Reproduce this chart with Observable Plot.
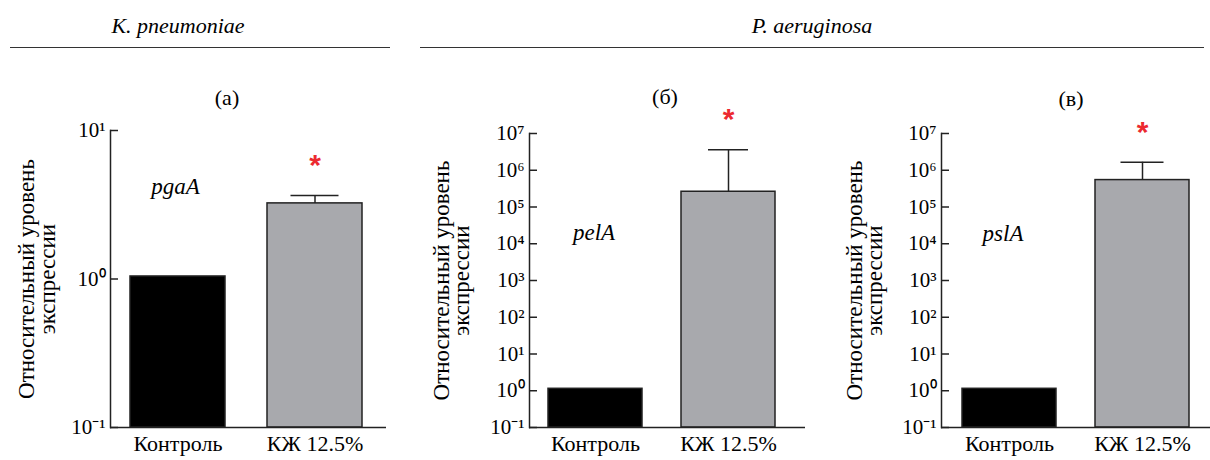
<!DOCTYPE html>
<html><head><meta charset="utf-8">
<script src="https://cdn.jsdelivr.net/npm/d3@7"></script>
<script src="https://cdn.jsdelivr.net/npm/@observablehq/plot@0.6"></script>
<style>
html,body{margin:0;background:#fff;font-family:"Liberation Serif","Times New Roman",Tinos,serif;}
#fig{position:relative;width:1210px;height:460px;color:#000;overflow:hidden}
.hdr{position:absolute;font-style:italic;font-size:22px;transform:translate(-50%,-50%);white-space:nowrap}
.rule{position:absolute;height:0;border-top:1.5px solid #333}
.ttl{position:absolute;font-size:22px;transform:translate(-50%,-50%);white-space:nowrap}
.panel{position:absolute;top:0}
</style></head><body>
<div id="fig">
  <div class="hdr" style="left:178px;top:26px">K. pneumoniae</div>
  <div class="rule" style="left:10px;top:47px;width:380px"></div>
  <div class="hdr" style="left:812px;top:26px">P. aeruginosa</div>
  <div class="rule" style="left:420px;top:47px;width:784px"></div>
  <div class="ttl" style="left:227px;top:98px">(а)</div>
  <div class="ttl" style="left:665px;top:97px">(б)</div>
  <div class="ttl" style="left:1071px;top:99px">(в)</div>
  <div class="panel" id="pa" style="left:0px"></div>
  <div class="panel" id="pb" style="left:410px"></div>
  <div class="panel" id="pc" style="left:800px"></div>
</div>
<script>
// ---- data ----
const categories = ["Контроль", "КЖ 12.5%"];
const pgaAValues = [1.04, 3.23];
const pgaAUpper = [null, 3.65];
const pelAValues = [1.13, 2.6e5];
const pelAUpper = [null, 3.6e6];
const pslAValues = [1.13, 5.4e5];
const pslAUpper = [null, 1.65e6];
const significant = [false, true];
const ticksA = [0.1, 1, 10];
const tickLabelsA = ["10⁻¹", "10⁰", "10¹"];
const ticksBC = [0.1, 1, 10, 100, 1e3, 1e4, 1e5, 1e6, 1e7];
const tickLabelsBC = ["10⁻¹", "10⁰", "10¹", "10²", "10³", "10⁴", "10⁵", "10⁶", "10⁷"];
const yLabel = "Относительный уровень\nэкспрессии";

const INK = "#222";
const SERIF = "'Liberation Serif', 'Times New Roman', Tinos, serif";
function panel(cfg) {
  const rows = categories.map((c, i) => ({cat: c, value: cfg.values[i], upper: cfg.upper[i], sig: significant[i]}));
  const err = rows.filter(d => d.upper != null);
  const sig = rows.filter(d => d.sig);
  const innerW = cfg.width - cfg.marginLeft - cfg.marginRight;
  return Plot.plot({
    width: cfg.width, height: 460,
    marginLeft: cfg.marginLeft, marginRight: cfg.marginRight, marginTop: cfg.marginTop, marginBottom: 33,
    style: `font-family: ${SERIF}; font-size: 20px; color: #000; background: transparent; overflow: visible;`,
    x: {type: "band", domain: categories, range: cfg.xRange, paddingInner: cfg.pad, paddingOuter: 0, align: 0},
    y: {type: "log", domain: [cfg.ticks[0], cfg.ticks[cfg.ticks.length - 1]], range: [427, cfg.marginTop]},
    color: {domain: categories, range: ["#000000", "#a8a9ad"]},
    marks: [
      Plot.barY(rows, {x: "cat", y1: cfg.ticks[0], y2: "value", fill: "cat", stroke: INK, strokeWidth: 1.5}),
      Plot.ruleX(err, {x: "cat", y1: "value", y2: "upper", stroke: INK, strokeWidth: 1.5}),
      Plot.tickY(err, {x: "cat", y: "upper", insetLeft: cfg.cap, insetRight: cfg.cap, stroke: INK, strokeWidth: 1.5}),
      Plot.text(sig, {x: "cat", y: "upper", text: () => "*", dy: -30, fill: "#ec2a30", fontSize: 30, fontWeight: "bold", fontFamily: "'Liberation Sans', Arimo, sans-serif"}),
      Plot.ruleY([cfg.ticks[0]], {stroke: INK, strokeWidth: 1.5}),
      Plot.frame({anchor: "left", stroke: INK, strokeWidth: 1.5}),
      Plot.ruleY(cfg.ticks, {insetRight: innerW - 8, stroke: INK, strokeWidth: 1.5}),
      Plot.axisY({ticks: cfg.ticks, tickFormat: d => cfg.tickLabels[cfg.ticks.indexOf(d)], tickSize: 0, tickPadding: 5, fontSize: 21, fontFamily: SERIF, label: null}),
      Plot.axisX({tickSize: 0, tickPadding: 8, fontSize: 22, fontFamily: SERIF, label: null}),
      Plot.text([yLabel], {frameAnchor: "left", textAnchor: "middle", rotate: -90, dx: cfg.labelDx, fontSize: 23, fontFamily: SERIF, lineHeight: 0.88, lineAnchor: "middle"}),
      Plot.text([cfg.gene], {x: () => categories[0], y: () => cfg.geneY, dx: cfg.geneDx, fontStyle: "italic", fontFamily: SERIF, fontSize: 23})
    ]
  });
}

const configs = [
  ["pa", {values: pgaAValues, upper: pgaAUpper, gene: "pgaA", ticks: ticksA, tickLabels: tickLabelsA,
    width: 400, marginLeft: 110, marginRight: 14, marginTop: 130, xRange: [130, 362], pad: 0.307, cap: 23.5,
    labelDx: -72.5, geneY: 4.2, geneDx: -2.5}],
  ["pb", {values: pelAValues, upper: pelAUpper, gene: "pelA", ticks: ticksBC, tickLabels: tickLabelsBC,
    width: 400, marginLeft: 119, marginRight: 5, marginTop: 133, xRange: [138, 367], pad: 0.291, cap: 27,
    labelDx: -77, geneY: 2e4, geneDx: -1.5}],
  ["pc", {values: pslAValues, upper: pslAUpper, gene: "pslA", ticks: ticksBC, tickLabels: tickLabelsBC,
    width: 410, marginLeft: 141, marginRight: 0, marginTop: 133, xRange: [162, 391], pad: 0.291, cap: 25.5,
    labelDx: -76, geneY: 1.9e4, geneDx: -6.5}]
];
function draw() {
  for (const [id, cfg] of configs) document.getElementById(id).replaceChildren(panel(cfg));
}
draw();
setTimeout(draw, 300);
</script>
</body></html>
